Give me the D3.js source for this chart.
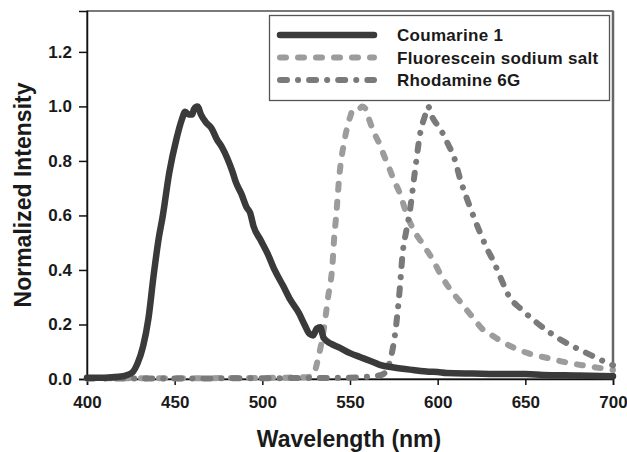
<!DOCTYPE html>
<html>
<head>
<meta charset="utf-8">
<script src="https://cdn.jsdelivr.net/npm/d3@7"></script>
<style>
  html, body { margin: 0; padding: 0; background: #fff; }
  svg { display: block; font-family: "Liberation Sans", Arial, Helvetica, sans-serif; }
</style>
</head>
<body>
<svg id="chart" width="627" height="452"></svg>
<script>
// ---- data ----
const seriesNames = ["Coumarine 1", "Fluorescein sodium salt", "Rhodamine 6G"];

const coumarineX = [400,410,418,423,426,429,432,435,438,441,443,447,451,454,456,458,460,461,463,465,468,471,474,477,480,483,485,488,491,493,495,499,503,507,512,516,521,524,527,529,531,533,535,539,544,550,556,562,567,575,586,595,600,605,620,640,650,660,680,700];
const coumarineY = [0.005,0.005,0.008,0.015,0.025,0.06,0.12,0.22,0.38,0.52,0.59,0.76,0.88,0.95,0.98,0.97,0.97,0.99,1.0,0.97,0.94,0.92,0.88,0.85,0.81,0.76,0.72,0.68,0.63,0.61,0.56,0.51,0.46,0.40,0.34,0.29,0.24,0.20,0.165,0.16,0.185,0.19,0.15,0.13,0.115,0.095,0.08,0.065,0.052,0.042,0.033,0.027,0.026,0.022,0.02,0.018,0.018,0.015,0.013,0.01];

const fluoresceinX = [400,450,500,520,527,529,532,535,537.5,540,541,542,544,547,550,552,555,557,559,561,564,567,570,572,575,578.5,582,586,591,597,602,607,612,617,622,626,631,636,645,654,664,674,685,698,700];
const fluoresceinY = [0.003,0.003,0.004,0.006,0.008,0.015,0.08,0.18,0.30,0.42,0.52,0.59,0.75,0.88,0.96,0.99,0.99,1.0,0.99,0.95,0.90,0.86,0.81,0.78,0.73,0.68,0.61,0.55,0.50,0.44,0.38,0.33,0.29,0.25,0.21,0.18,0.16,0.14,0.11,0.09,0.075,0.06,0.048,0.035,0.033];

const rhodamineX = [400,450,500,540,560,566,569,573,576,578.5,580,582,584,587,590,593,594.5,597,600,603,606,609,613,618.5,624,628,632,636,641,647,654,664,670,677,685,693,700];
const rhodamineY = [0.002,0.002,0.003,0.004,0.008,0.012,0.018,0.07,0.18,0.34,0.46,0.54,0.61,0.76,0.90,0.97,1.0,0.96,0.93,0.90,0.86,0.82,0.73,0.63,0.54,0.48,0.43,0.37,0.30,0.26,0.22,0.17,0.145,0.12,0.095,0.07,0.05];

const xTicks = [400,450,500,550,600,650,700];
const yTicks = [0.0,0.2,0.4,0.6,0.8,1.0,1.2];
const xTitle = "Wavelength (nm)";
const yTitle = "Normalized Intensity";

// ---- layout ----
const svg = d3.select("#chart");
const mLeft = 87, mRight = 613, mTop = 11, mBottom = 379;

const x = d3.scaleLinear().domain([400, 700]).range([mLeft, mRight]);
const y = d3.scaleLinear().domain([0, 1.35]).range([mBottom, mTop]);

const styles = [
  { color: "#3a3a3a", width: 6.5, dash: null },
  { color: "#9c9c9c", width: 6, dash: "6,12" },
  { color: "#7a7a7a", width: 6, dash: "7,11,0.1,11" }
];

const seriesData = [
  d3.zip(coumarineX, coumarineY),
  d3.zip(fluoresceinX, fluoresceinY),
  d3.zip(rhodamineX, rhodamineY)
];

// frame
svg.append("rect")
  .attr("x", mLeft).attr("y", mTop)
  .attr("width", mRight - mLeft).attr("height", mBottom - mTop)
  .attr("fill", "none").attr("stroke", "#222").attr("stroke-width", 1.2);
svg.append("line")
  .attr("x1", mRight).attr("x2", mRight).attr("y1", mTop).attr("y2", mBottom)
  .attr("stroke", "#666").attr("stroke-width", 2.5);

// axes
const xAxis = svg.append("g")
  .attr("transform", `translate(0,${mBottom})`)
  .call(d3.axisBottom(x).tickValues(xTicks).tickSize(6).tickPadding(11).tickFormat(d3.format("d")));
const yAxis = svg.append("g")
  .attr("transform", `translate(${mLeft},0)`)
  .call(d3.axisLeft(y).tickValues(yTicks).tickSize(8).tickPadding(7).tickFormat(d3.format(".1f")));

[xAxis, yAxis].forEach(g => {
  g.select(".domain").attr("stroke", "#111").attr("stroke-width", 1.5);
  g.selectAll(".tick line").attr("stroke", "#111").attr("stroke-width", 1.5);
  g.selectAll(".tick text")
    .attr("fill", "#1a1a1a")
    .style("font-size", "17px")
    .style("font-weight", "bold")
    .style("font-family", '"Liberation Sans", Arial, sans-serif');
});

// lines
const line = d3.line().x(d => x(d[0])).y(d => y(d[1])).curve(d3.curveMonotoneX);
const order = [1, 2, 0];
order.forEach(i => {
  const s = styles[i];
  const p = svg.append("path")
    .datum(seriesData[i])
    .attr("d", line)
    .attr("fill", "none")
    .attr("stroke", s.color)
    .attr("stroke-width", s.width)
    .attr("stroke-linecap", "round")
    .attr("stroke-linejoin", "round");
  if (s.dash) p.attr("stroke-dasharray", s.dash);
});

// legend
const lg = svg.append("g");
lg.append("rect")
  .attr("x", 269.5).attr("y", 15.5).attr("width", 340).attr("height", 85)
  .attr("fill", "#fff").attr("stroke", "#555").attr("stroke-width", 1.3);
const rowsY = [35, 57.5, 80];
seriesNames.forEach((name, i) => {
  const s = styles[i];
  const l = lg.append("line")
    .attr("x1", 280).attr("x2", 374)
    .attr("y1", rowsY[i]).attr("y2", rowsY[i])
    .attr("stroke", s.color).attr("stroke-width", s.width)
    .attr("stroke-linecap", "round");
  if (s.dash) l.attr("stroke-dasharray", s.dash);
  lg.append("text")
    .attr("x", 397).attr("y", rowsY[i] + 6)
    .attr("fill", "#1a1a1a")
    .style("font-size", "17px")
    .style("font-weight", "bold")
    .style("letter-spacing", "0.3px")
    .text(name);
});

// axis titles
svg.append("text")
  .attr("x", 349).attr("y", 447)
  .attr("text-anchor", "middle")
  .attr("fill", "#1a1a1a")
  .style("font-size", "23px").style("font-weight", "bold")
  .text(xTitle);
svg.append("text")
  .attr("transform", "translate(31,195) rotate(-90)")
  .attr("text-anchor", "middle")
  .attr("fill", "#1a1a1a")
  .style("font-size", "23px").style("font-weight", "bold")
  .text(yTitle);
</script>
</body>
</html>
